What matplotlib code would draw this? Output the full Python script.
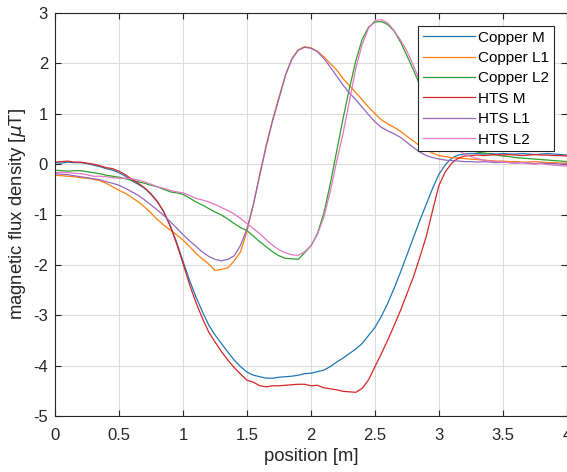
import numpy as np
import matplotlib
matplotlib.use('Agg')
import matplotlib.pyplot as plt

plt.rcParams['font.family'] = ['Liberation Sans', 'DejaVu Sans']
plt.rcParams['mathtext.fontset'] = 'dejavusans'
plt.rcParams['axes.unicode_minus'] = False

# position along the line [m], 0.05 m steps
position = np.round(np.arange(0, 4.0001, 0.05), 2)

copper_m = [0.03, 0.02, 0.04, 0.03, 0.03, 0.01, -0.02, -0.05, -0.09, -0.12,
            -0.17, -0.24, -0.33, -0.40, -0.48, -0.60, -0.75, -0.95, -1.22, -1.55,
            -1.93, -2.30, -2.63, -2.92, -3.19, -3.39, -3.56, -3.73, -3.89, -4.02,
            -4.13, -4.19, -4.22, -4.25, -4.25, -4.23, -4.22, -4.21, -4.19, -4.16,
            -4.15, -4.12, -4.09, -4.02, -3.93, -3.85, -3.76, -3.67, -3.56, -3.40,
            -3.24, -3.02, -2.76, -2.46, -2.14, -1.80, -1.46, -1.12, -0.80, -0.48,
            -0.20, -0.01, 0.12, 0.18, 0.20, 0.21, 0.21, 0.20, 0.21, 0.20,
            0.21, 0.20, 0.20, 0.21, 0.20, 0.19, 0.20, 0.21, 0.20, 0.19, 0.18]

copper_l1 = [-0.22, -0.23, -0.24, -0.25, -0.27, -0.28, -0.30, -0.33, -0.38, -0.45,
             -0.52, -0.58, -0.66, -0.75, -0.85, -0.97, -1.10, -1.21, -1.31, -1.40,
             -1.51, -1.63, -1.77, -1.88, -1.98, -2.11, -2.09, -2.06, -1.92, -1.74,
             -1.33, -0.80, -0.20, 0.38, 0.88, 1.33, 1.76, 2.09, 2.27, 2.33,
             2.31, 2.24, 2.13, 2.00, 1.87, 1.70, 1.56, 1.42, 1.28, 1.13,
             1.00, 0.88, 0.80, 0.73, 0.65, 0.55, 0.46, 0.36, 0.28, 0.22,
             0.17, 0.15, 0.13, 0.12, 0.11, 0.10, 0.09, 0.08, 0.07, 0.06,
             0.06, 0.05, 0.05, 0.04, 0.04, 0.05, 0.04, 0.03, 0.03, 0.02, 0.02]

copper_l2 = [-0.12, -0.13, -0.14, -0.13, -0.13, -0.15, -0.17, -0.19, -0.22, -0.24,
             -0.26, -0.29, -0.32, -0.35, -0.38, -0.42, -0.45, -0.50, -0.55, -0.57,
             -0.60, -0.67, -0.75, -0.81, -0.88, -0.95, -1.01, -1.09, -1.18, -1.26,
             -1.32, -1.43, -1.54, -1.64, -1.74, -1.82, -1.87, -1.88, -1.89, -1.76,
             -1.62, -1.38, -0.98, -0.40, 0.25, 0.90, 1.50, 2.05, 2.48, 2.72,
             2.82, 2.83, 2.77, 2.64, 2.42, 2.15, 1.87, 1.57, 1.25, 0.95,
             0.72, 0.55, 0.43, 0.35, 0.30, 0.27, 0.24, 0.22, 0.20, 0.18,
             0.16, 0.15, 0.13, 0.12, 0.11, 0.10, 0.09, 0.08, 0.07, 0.06, 0.05]

hts_m = [0.04, 0.05, 0.06, 0.04, 0.04, 0.02, 0.00, -0.03, -0.07, -0.09,
         -0.14, -0.21, -0.30, -0.38, -0.47, -0.59, -0.74, -0.95, -1.23, -1.58,
         -1.97, -2.38, -2.74, -3.05, -3.33, -3.53, -3.72, -3.89, -4.04, -4.17,
         -4.29, -4.33, -4.40, -4.42, -4.40, -4.40, -4.39, -4.38, -4.37, -4.37,
         -4.40, -4.39, -4.44, -4.46, -4.48, -4.51, -4.52, -4.53, -4.45, -4.28,
         -4.02, -3.76, -3.49, -3.20, -2.90, -2.57, -2.24, -1.85, -1.44, -0.92,
         -0.42, -0.15, 0.02, 0.12, 0.16, 0.17, 0.18, 0.17, 0.18, 0.19,
         0.18, 0.19, 0.18, 0.17, 0.18, 0.19, 0.18, 0.18, 0.17, 0.17, 0.16]

hts_l1 = [-0.19, -0.20, -0.21, -0.23, -0.25, -0.27, -0.29, -0.31, -0.35, -0.38,
          -0.42, -0.48, -0.55, -0.62, -0.71, -0.81, -0.91, -1.02, -1.14, -1.27,
          -1.40, -1.52, -1.63, -1.74, -1.83, -1.89, -1.92, -1.89, -1.82, -1.61,
          -1.28, -0.80, -0.22, 0.35, 0.86, 1.30, 1.76, 2.08, 2.26, 2.32,
          2.30, 2.23, 2.10, 1.93, 1.75, 1.57, 1.41, 1.28, 1.13, 0.98,
          0.84, 0.73, 0.66, 0.60, 0.53, 0.43, 0.33, 0.24, 0.17, 0.13,
          0.10, 0.08, 0.07, 0.06, 0.05, 0.05, 0.04, 0.05, 0.04, 0.03,
          0.04, 0.03, 0.02, 0.03, 0.02, 0.01, 0.02, 0.01, 0.01, 0.00, 0.00]

hts_l2 = [-0.17, -0.16, -0.17, -0.18, -0.19, -0.21, -0.24, -0.24, -0.25, -0.27,
          -0.28, -0.28, -0.29, -0.32, -0.35, -0.40, -0.45, -0.48, -0.52, -0.55,
          -0.57, -0.62, -0.68, -0.71, -0.75, -0.80, -0.86, -0.92, -0.99, -1.08,
          -1.18, -1.28, -1.38, -1.50, -1.61, -1.70, -1.76, -1.80, -1.81, -1.74,
          -1.62, -1.40, -1.05, -0.55, 0.05, 0.60, 1.25, 1.90, 2.38, 2.70,
          2.85, 2.87, 2.80, 2.65, 2.46, 2.24, 1.96, 1.65, 1.30, 0.98,
          0.72, 0.52, 0.37, 0.27, 0.20, 0.15, 0.11, 0.08, 0.06, 0.05,
          0.04, 0.03, 0.02, 0.03, 0.01, 0.00, 0.01, -0.01, -0.02, -0.03, -0.04]

labels = ['Copper M', 'Copper L1', 'Copper L2', 'HTS M', 'HTS L1', 'HTS L2']
colors = ['#1f77b4', '#ff7f0e', '#2ca02c', '#d62728', '#9467bd', '#e377c2']
values = [copper_m, copper_l1, copper_l2, hts_m, hts_l1, hts_l2]

fig = plt.figure(figsize=(5.67, 4.72), dpi=100)
ax = fig.add_axes([55 / 567, 1 - 416 / 472, 512 / 567, 403 / 472])

for label, c, v in zip(labels, colors, values):
    ax.plot(position, v, color=c, linewidth=0.9, label=label)

ax.set_xlim(0, 4)
ax.set_ylim(-5, 3)
ax.set_xticks(np.arange(0, 4.01, 0.5))
ax.set_xticklabels(['0', '0.5', '1', '1.5', '2', '2.5', '3', '3.5', '4'])
ax.set_yticks(range(-5, 4))

ax.grid(True, color='#dcdcdc', linewidth=0.8)
ax.set_axisbelow(True)
ax.tick_params(direction='in', top=True, right=True, length=4, width=0.8,
               labelsize=12, colors='#262626')
ax.tick_params(axis='x', pad=9)
ax.tick_params(axis='y', pad=5)
for s in ax.spines.values():
    s.set_color('#262626')
    s.set_linewidth(0.8)

ax.set_xlabel('position [m]', fontsize=13.3, color='#262626', labelpad=3)
ax.set_ylabel(r'magnetic flux density [$\mu$T]', fontsize=13.3, color='#262626', labelpad=4)

leg = ax.legend(loc='upper right', fontsize=11, fancybox=False, framealpha=1,
                edgecolor='#262626', handlelength=3.4, handletextpad=0.25,
                borderpad=0.3, labelspacing=0.42, borderaxespad=0.85)
leg.get_frame().set_linewidth(0.8)

fig.savefig('out.png', dpi=100)
